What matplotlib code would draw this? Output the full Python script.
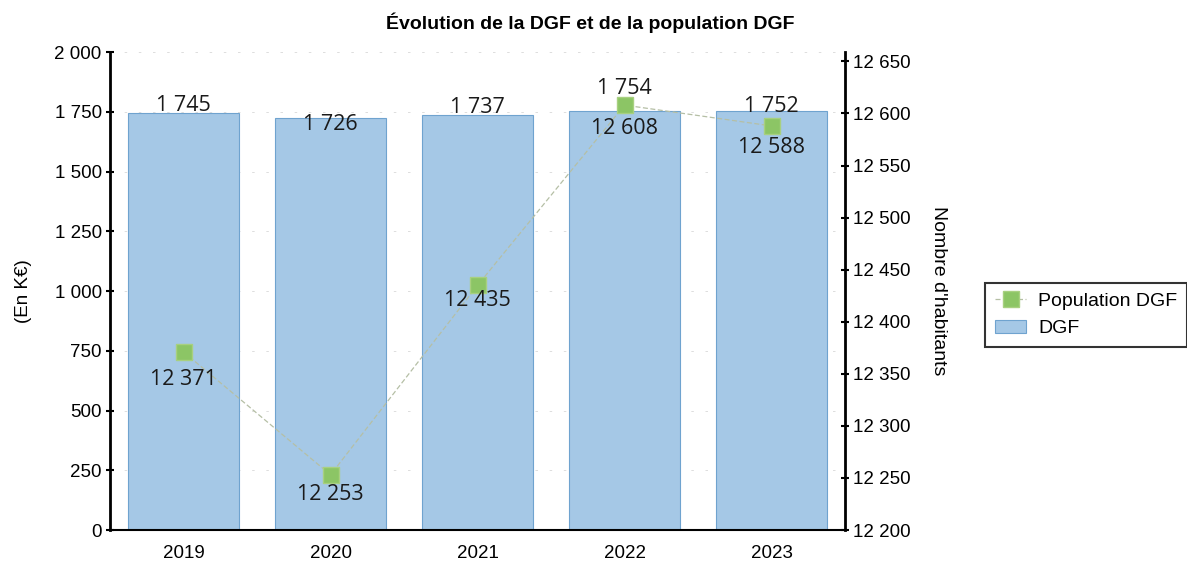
import matplotlib.pyplot as plt
import numpy as np
from matplotlib.ticker import FuncFormatter

years = ["2019", "2020", "2021", "2022", "2023"]
dgf = [1745, 1726, 1737, 1754, 1752]
population = [12371, 12253, 12435, 12608, 12588]

plt.rcParams['font.family'] = ['Liberation Sans', 'DejaVu Sans']


def fr(v, pos=None):
    return f"{int(v):,}".replace(",", " ")


fig = plt.figure(figsize=(11.87, 5.63), dpi=100)
ax = fig.add_axes([0.0927, 0.0586, 0.6193, 0.849])
x = np.arange(len(years))

bars = ax.bar(x, dgf, width=0.75, color="#a5c8e6", edgecolor="#6fa3cf",
              linewidth=0.8, label="DGF", zorder=2)
ax.set_xlim(-0.5, len(years) - 0.5)
ax.set_ylim(0, 2000)
ax.set_yticks(range(0, 2001, 250))
ax.yaxis.set_major_formatter(FuncFormatter(fr))
ax.set_xticks(x)
ax.set_xticklabels(years)
ax.tick_params(axis="both", labelsize=13.5)
ax.tick_params(axis="x", length=0, pad=11)
ax.tick_params(axis="y", direction="inout", length=6, width=1.5, pad=3)
ax.set_ylabel("(En K€)", fontsize=13.5, labelpad=16)
for s in ["top", "right"]:
    ax.spines[s].set_visible(False)
ax.spines["left"].set_linewidth(2)
ax.spines["bottom"].set_linewidth(1.5)
ax.spines["bottom"].set_linestyle((0, (6, 1)))
for yv in range(250, 2001, 250):
    ax.axhline(yv, color="#d8d8d8", lw=0.6, ls=(0, (3, 14)), zorder=1)

# label offsets follow the reference (collision avoidance in the original)
dgf_offsets = [30, -31, 30, 93, 20]
for xi, v, off in zip(x, dgf, dgf_offsets):
    ax.text(xi, v + off, fr(v), ha="center", va="center", fontsize=15.5,
            family=["Open Sans", "DejaVu Sans"], color="#1a1a1a", zorder=4)

ax2 = ax.twinx()
ax2.set_ylim(12200, 12659)
ax2.set_yticks(range(12200, 12651, 50))
ax2.yaxis.set_major_formatter(FuncFormatter(fr))
ax2.tick_params(axis="y", labelsize=13.5, direction="inout", length=6,
                width=1.5, pad=3)
for s in ["top", "left", "bottom"]:
    ax2.spines[s].set_visible(False)
ax2.spines["right"].set_linewidth(2)
ax2.set_ylabel("Nombre d'habitants", fontsize=14, rotation=-90, labelpad=26)

line, = ax2.plot(x, population, color="#b5bfa5", lw=0.9, ls=(0, (4, 2)),
                 marker="s", markersize=12, markerfacecolor="#8cc565",
                 markeredgecolor="#a8d080", label="Population DGF", zorder=3)
pop_offsets = [-26, -19, -15, -22, -21]
for xi, v, off in zip(x, population, pop_offsets):
    ax2.text(xi, v + off, fr(v), ha="center", va="center", fontsize=15.5,
             family=["Open Sans", "DejaVu Sans"], color="#1a1a1a", zorder=4)

fig.suptitle("Évolution de la DGF et de la population DGF", x=0.497, y=0.978,
             fontsize=14, fontweight="bold")

leg = fig.legend([line, bars], ["Population DGF", "DGF"],
                 loc="upper left", bbox_to_anchor=(0.822, 0.515),
                 fontsize=14, frameon=True, fancybox=False,
                 handlelength=1.6, handletextpad=0.6, borderpad=0.5,
                 labelspacing=0.5)
leg.get_frame().set_edgecolor("black")
leg.get_frame().set_linewidth(1.5)

fig.savefig("out.png", dpi=100)
